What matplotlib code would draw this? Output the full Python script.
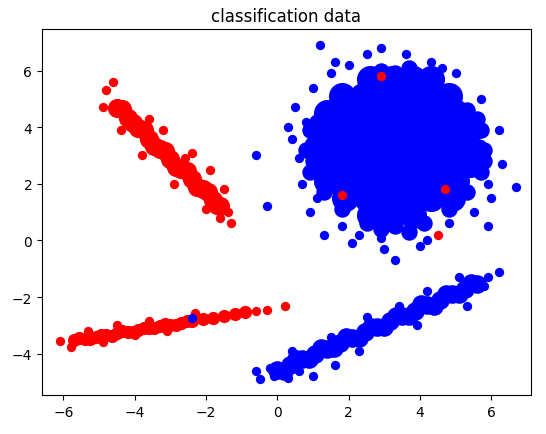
import matplotlib
matplotlib.use("Agg")
import matplotlib.pyplot as plt

# Blue blob: dense core and scattered edge points
blob_core_x = [2.6,3.2,3.8,4.3, 1.8,2.4,3.0,3.6,4.2,4.8, 1.4,2.0,2.6,3.2,3.8,4.4,5.0,
               1.2,1.8,2.4,3.0,3.6,4.2,4.8,5.4, 1.1,1.7,2.3,2.9,3.5,4.1,4.7,5.3,
               1.2,1.8,2.4,3.0,3.6,4.2,4.8,5.4, 1.4,2.0,2.6,3.2,3.8,4.4,5.0,
               1.9,2.5,3.1,3.7,4.3,4.9, 2.6,3.2,3.8]
blob_core_y = [5.7]*4 + [5.1]*6 + [4.5]*7 + [3.9]*8 + [3.3]*8 + [2.7]*8 + [2.1]*7 + [1.5]*6 + [0.9]*3
blob_ring = [(3.3,5.9),(4.1,5.7),(4.8,5.2),(5.3,4.6),(5.7,3.9),(5.8,3.2),(5.7,2.4),(5.3,1.7),
             (4.8,1.1),(4.1,0.6),(3.3,0.5),(2.5,0.6),(1.8,1.1),(1.3,1.7),(0.9,2.4),(0.8,3.2),
             (0.9,3.9),(1.3,4.6),(1.8,5.2),(2.5,5.7),(3.7,6.1),(2.9,6.0),(5.6,4.3),(5.8,2.8),
             (1.0,2.8),(1.1,4.2),(3.7,0.3),(2.9,0.4)]
blob_edge = [(1.2,6.9),(2.9,6.8),(0.3,4.0),(0.6,2.9),(0.7,2.0),(0.9,1.0),(1.3,0.2),(2.1,-0.1),
             (2.9,0.1),(3.3,-0.7),(4.0,-0.2),(4.8,0.6),(5.5,1.0),(5.9,0.5),(6.7,1.9),(6.3,2.7),
             (6.2,3.9),(5.7,5.0),(5.0,5.9),(4.3,6.3),(3.6,6.6),(2.0,6.2),(1.0,5.4),(0.5,4.7),
             (-0.3,1.2),(-0.6,3.0),(0.4,3.6),(1.5,5.9),(1.1,1.5),(5.9,2.0),(5.7,3.4),(4.6,6.1),
             (2.5,6.6),(3.0,-0.3),(1.8,0.5),(0.8,4.2),(6.0,1.5),(4.2,0.0),(2.3,0.2),(1.6,6.3)]

# Blue lower streak
bl_core = [(0.0,-4.59),(0.35,-4.39),(0.7,-4.20),(1.05,-4.01),(1.4,-3.82),(1.75,-3.63),(2.1,-3.43),
           (2.45,-3.24),(2.8,-3.05),(3.15,-2.86),(3.5,-2.67),(3.85,-2.48),(4.2,-2.28),(4.55,-2.09),
           (4.9,-1.90),(5.25,-1.71),(5.6,-1.52),
           (0.18,-4.6),(0.53,-4.2),(0.88,-4.2),(1.23,-3.8),(1.58,-3.8),(1.93,-3.4),(2.28,-3.45),
           (2.63,-3.05),(2.98,-3.05),(3.33,-2.65),(3.68,-2.68),(4.03,-2.25),(4.38,-2.3),(4.73,-1.9),
           (5.08,-1.9),(5.43,-1.5)]
bl_edge = [(-0.5,-4.9),(-0.1,-4.8),(0.6,-4.6),(1.0,-4.8),(0.4,-3.9),(1.5,-3.4),(2.5,-2.7),(3.4,-2.3),
           (4.2,-1.8),(5.1,-1.3),(5.9,-1.3),(6.2,-1.1),(5.3,-2.3),(3.9,-3.0),(2.3,-3.9),(1.6,-4.4),
           (-0.6,-4.6),(5.8,-1.6),(-2.4,-2.75),(-0.2,-4.5),(0.3,-4.85)]

# Red upper streak
ru_core = [(-4.5,4.68),(-4.2,4.32),(-3.9,3.96),(-3.6,3.6),(-3.3,3.24),(-3.0,2.88),(-2.7,2.52),
           (-2.4,2.16),(-2.1,1.8),(-1.8,1.44),(-1.6,1.2),
           (-4.35,4.65),(-4.05,4.15),(-3.75,3.9),(-3.45,3.35),(-3.15,3.15),(-2.85,2.6),
           (-2.55,2.45),(-2.25,1.9),(-1.95,1.7),(-1.7,1.25)]
ru_edge = [(-4.6,5.6),(-4.8,5.3),(-4.9,4.7),(-3.6,4.3),(-3.2,3.9),(-2.4,3.1),(-1.5,1.8),(-1.3,0.6),
           (-1.4,1.0),(-2.0,1.1),(-2.9,2.0),(-3.8,3.0),(-4.4,3.9),(-1.6,0.8),(-2.6,2.9),(-1.9,2.5)]

# Red lower streak
rl_core = [(-5.7,-3.53),(-5.4,-3.47),(-5.1,-3.40),(-4.8,-3.34),(-4.5,-3.28),(-4.2,-3.22),(-3.9,-3.15),
           (-3.6,-3.09),(-3.3,-3.03),(-3.0,-2.97),(-2.7,-2.90),(-2.4,-2.84),(-2.1,-2.78),(-1.8,-2.72),
           (-1.5,-2.65),(-1.2,-2.59),(-0.9,-2.53),
           (-5.55,-3.45),(-5.25,-3.48),(-4.95,-3.32),(-4.65,-3.36),(-4.35,-3.2),(-4.05,-3.24),
           (-3.75,-3.08),(-3.45,-3.1),(-3.15,-2.96),(-2.85,-2.98),(-2.55,-2.84)]
rl_edge = [(-6.1,-3.55),(-5.8,-3.75),(-4.9,-3.6),(-4.0,-3.35),(-4.5,-3.0),(-3.6,-2.85),(-2.3,-2.55),
           (-0.6,-2.5),(-0.3,-2.45),(0.2,-2.3),(-5.3,-3.2),(-3.1,-3.2)]
red_in_blob = [(2.9,5.8),(1.8,1.6),(4.7,1.8),(4.5,0.2)]

fig = plt.figure(figsize=(5.46, 4.35), dpi=100)
ax = fig.add_axes([0.077, 0.09, 0.895, 0.84])

def pts(lst):
    return [p[0] for p in lst], [p[1] for p in lst]

ax.scatter(*pts(ru_core), s=190, c="red", linewidths=0)
ax.scatter(*pts(ru_edge), s=45, c="red", linewidths=0)
ax.scatter(*pts(rl_core), s=90, c="red", linewidths=0)
ax.scatter(*pts(rl_edge), s=45, c="red", linewidths=0)
ax.scatter(blob_core_x, blob_core_y, s=380, c="blue", linewidths=0)
ax.scatter(*pts(blob_ring), s=140, c="blue", linewidths=0)
ax.scatter(*pts(blob_edge), s=45, c="blue", linewidths=0)
ax.scatter(*pts(bl_core), s=180, c="blue", linewidths=0)
ax.scatter(*pts(bl_edge), s=45, c="blue", linewidths=0)
ax.scatter(*pts(red_in_blob), s=45, c="red", linewidths=0)

ax.set_xlim(-6.6, 7.1)
ax.set_ylim(-5.45, 7.45)
ax.set_xticks([-6,-4,-2,0,2,4,6])
ax.set_yticks([-4,-2,0,2,4,6])
ax.set_title("classification data")
fig.savefig("out.png", dpi=100)
